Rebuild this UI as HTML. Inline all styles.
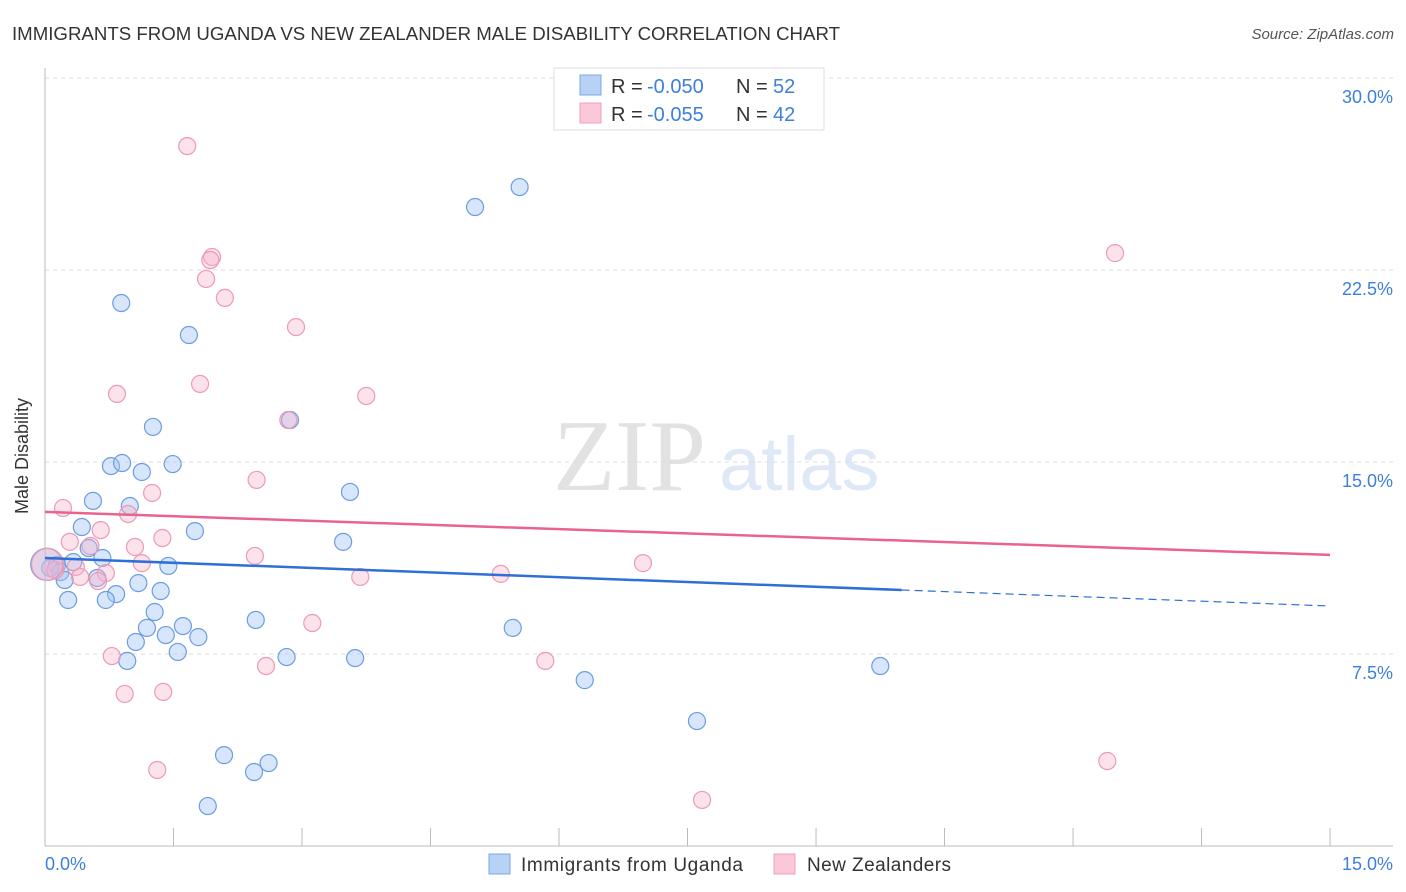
<!DOCTYPE html>
<html><head><meta charset="utf-8"><style>
body{margin:0;background:#fff;font-family:"Liberation Sans",sans-serif;}
svg{display:block}
</style></head><body>
<svg id="chart" width="1406" height="892">
<text x="12" y="40" font-size="18" fill="#333" textLength="828" lengthAdjust="spacingAndGlyphs">IMMIGRANTS FROM UGANDA VS NEW ZEALANDER MALE DISABILITY CORRELATION CHART</text>
<text x="1394" y="39" font-size="15" font-style="italic" fill="#555" text-anchor="end">Source: ZipAtlas.com</text>
<text x="553" y="490" font-size="102" font-family="Liberation Serif,serif" fill="#e2e2e2">ZIP</text>
<text x="719" y="490" font-size="76" fill="#dfe8f6">atlas</text>
<g id="grid"></g>
<line x1="45" y1="68" x2="45" y2="846" stroke="#bbb"/>
<line x1="45" y1="846" x2="1393" y2="846" stroke="#bbb"/>
<g id="xticks"></g>
<text x="28" y="456" font-size="18" fill="#333" text-anchor="middle" transform="rotate(-90 28 456)">Male Disability</text>
<text x="45" y="870" font-size="18" fill="#3d7fdb">0.0%</text>
<text x="1393" y="870" font-size="18" fill="#3d7fdb" text-anchor="end">15.0%</text>
<g id="pts"></g>
<g id="lines"></g>
<g>
<rect x="554" y="68" width="270" height="62" fill="#fff" stroke="#ddd"/>
<rect x="580" y="75" width="21" height="20" fill="#b8d2f5" stroke="#7aa7e6"/>
<rect x="580" y="103" width="21" height="20" fill="#fac8d8" stroke="#f0a0bb"/>
<text x="611" y="93" font-size="20" fill="#333">R =</text>
<text x="647" y="93" font-size="20" fill="#3d7fdb">-0.050</text>
<text x="736" y="93" font-size="20" fill="#333">N =</text>
<text x="773" y="93" font-size="20" fill="#3d7fdb">52</text>
<text x="611" y="121" font-size="20" fill="#333">R =</text>
<text x="647" y="121" font-size="20" fill="#3d7fdb">-0.055</text>
<text x="736" y="121" font-size="20" fill="#333">N =</text>
<text x="773" y="121" font-size="20" fill="#3d7fdb">42</text>
</g>
<g>
<rect x="489" y="854" width="21" height="20" fill="#b8d2f5" stroke="#7aa7e6"/>
<text x="521" y="871" font-size="19" fill="#333" textLength="222">Immigrants from Uganda</text>
<rect x="774" y="854" width="21" height="20" fill="#fac8d8" stroke="#f0a0bb"/>
<text x="807" y="871" font-size="19" fill="#333" textLength="144">New Zealanders</text>
</g>
</svg>
<script>
const yTicks=[7.5,15,22.5,30];
const yTickLabels=["7.5%","15.0%","22.5%","30.0%"];
const xTicks=[0,1.5,3,4.5,6,7.5,9,10.5,12,13.5,15];
const blueX=[5.54,5.02,0.89,1.68,1.26,2.86,0.77,0.90,1.13,1.49,3.56,0.56,0.99,0.43,1.75,3.48,0.51,0.67,0.33,0.14,0.18,0.06,0.23,0.61,1.09,1.44,1.35,0.83,0.71,0.27,1.28,2.46,1.19,1.61,1.41,1.79,1.06,1.55,0.96,2.82,3.62,6.30,9.75,5.46,7.61,2.09,2.61,2.44,1.90,0.02];
const blueY=[25.74,24.96,21.21,19.96,16.37,16.64,14.84,14.96,14.61,14.92,13.83,13.48,13.28,12.46,12.30,11.88,11.64,11.25,11.09,10.98,10.70,10.86,10.39,10.47,10.27,10.94,9.96,9.84,9.61,9.61,9.14,8.83,8.52,8.59,8.24,8.16,7.97,7.58,7.23,7.38,7.34,6.48,7.03,8.52,4.88,3.55,3.24,2.89,1.56,11.0];
const pinkX=[1.66,1.95,1.93,1.88,2.10,2.93,1.81,0.84,3.75,2.84,2.47,1.25,0.21,0.97,0.65,1.37,0.29,0.53,1.05,2.45,1.13,6.98,0.36,0.71,0.41,0.62,3.68,5.32,3.12,0.78,5.84,2.58,0.93,1.38,1.31,7.67,12.40,12.49,0.12,0.03];
const pinkY=[27.34,23.01,22.89,22.15,21.41,20.27,18.05,17.66,17.58,16.64,14.30,13.79,13.20,12.97,12.34,12.03,11.88,11.72,11.68,11.33,11.05,11.05,10.90,10.66,10.51,10.35,10.51,10.63,8.71,7.42,7.23,7.03,5.94,6.02,2.97,1.80,3.32,23.16,10.78,11.0];
const trendIntercept=[11.25,13.05];
const trendSlope=[-0.125,-0.112];
const blueSolidEnd=10.0;
const NS="http://www.w3.org/2000/svg";
const X=v=>45+v*85.67, Y=v=>846-v*25.6;
function mk(t,a,p){const e=document.createElementNS(NS,t);for(const k in a)e.setAttribute(k,a[k]);p.appendChild(e);return e;}
const grid=document.getElementById('grid');
yTicks.forEach((t,i)=>{
 const l=mk('line',{x1:45,x2:1393,y1:Y(t),y2:Y(t),stroke:'#ddd','stroke-dasharray':'4,4'},grid);
 
 
 const tx=mk('text',{x:1393,y:Y(t)+25,'font-size':18,fill:'#3d7fdb','text-anchor':'end'},grid);
 tx.textContent=yTickLabels[i];
 
 
});
const xt=document.getElementById('xticks');
xTicks.forEach(t=>{
 const l=mk('line',{x1:X(t),x2:X(t),y1:828,y2:846,stroke:'#bbb'},xt);
 
 
});
const pts=document.getElementById('pts');
function series(xs,ys,fill,stroke,name){
 xs.forEach((x,i)=>{
  const big=i===xs.length-1;
  const c=mk('circle',{cx:X(x),cy:Y(ys[i]),r:big?16:8.5,fill:fill,stroke:stroke,'stroke-width':1.2},pts);
  
  
 });
}
series(blueX,blueY,'rgba(160,195,242,0.42)','#6c9de2','uganda-point');
series(pinkX,pinkY,'rgba(246,178,202,0.38)','#ec9ab6','nz-point');
const ln=document.getElementById('lines');
const f=(s,x)=>trendIntercept[s]+trendSlope[s]*x;
let a=mk('line',{x1:X(0),y1:Y(f(1,0)),x2:X(15),y2:Y(f(1,15)),stroke:'#e8648f','stroke-width':2.5},ln);


let b=mk('line',{x1:X(0),y1:Y(f(0,0)),x2:X(blueSolidEnd),y2:Y(f(0,blueSolidEnd)),stroke:'#2f6fd6','stroke-width':2.5},ln);


let c=mk('line',{x1:X(blueSolidEnd),y1:Y(f(0,blueSolidEnd)),x2:X(15),y2:Y(f(0,15)),stroke:'#2f6fd6','stroke-width':1.2,'stroke-dasharray':'8,5'},ln);


</script>
</body></html>
